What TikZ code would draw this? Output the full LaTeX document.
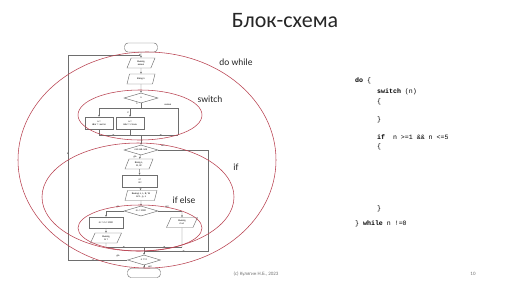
\documentclass[tikz,border=0pt]{standalone}
\usepackage{fontspec}
\setmainfont{Carlito}
\newfontfamily\codefont{Liberation Mono}
\newfontfamily\tinyfont{Liberation Sans}
\usetikzlibrary{shapes.geometric,arrows.meta,calc}
\definecolor{ellred}{RGB}{185,65,80}
\definecolor{fline}{RGB}{110,110,110}
\tikzset{
  fc/.style={draw=fline,line width=0.45pt,fill=white,font=\tinyfont\fontsize{2.4}{2.8}\selectfont,align=center,inner sep=0.3pt},
  termbox/.style={fc,rounded corners=3.5pt,minimum width=33pt,minimum height=9pt},
  iobox/.style={fc,trapezium,trapezium left angle=72,trapezium right angle=108,trapezium stretches=true,minimum width=28pt,minimum height=10pt},
  procbox/.style={fc,rectangle,minimum width=28pt,minimum height=12pt},
  decbox/.style={fc,diamond,aspect=3.4,minimum width=34pt,minimum height=10pt},
  conn/.style={draw=fline,line width=0.45pt},
  arr/.style={conn,-{Stealth[length=2pt,width=1.8pt]}},
  lbl/.style={font=\tinyfont\fontsize{2.4}{2.8}\selectfont,inner sep=0.5pt},
  ell/.style={draw=ellred,line width=0.55pt},
  elabel/.style={font=\fontsize{9.5}{11}\selectfont,text=black!85},
  code/.style={font=\codefont\fontsize{6.6}{8}\selectfont,anchor=west,inner sep=0pt},
}
\begin{document}
\begin{tikzpicture}[x=1pt,y=-1pt]
\useasboundingbox[fill=white] (0,0) rectangle (516,290);

% title and footer
\node[font=\fontsize{22}{24}\selectfont,text=black!85] (title) at (285,21) {Блок-схема};
\node[font=\fontsize{5}{6}\selectfont,text=black!55] (foot) at (256,274) {(с) Кулягин Н.Б., 2023};
\node[font=\fontsize{5}{6}\selectfont,text=black!55] (pnum) at (473,274) {10};

% flowchart nodes
\node[termbox] (start) at (141,47.5) {};
\node[iobox] (menu) at (141,63) {Вывод\\меню};
\node[iobox] (inn) at (141,79) {Ввод n};
\node[decbox] (dn) at (141,98) {n};
\node[procbox] (b1) at (99,123) {a =\\Шаг = число};
\node[procbox] (b2) at (130,123) {a =\\Шаг = стена};
\node[decbox] (dif) at (141,150) {n≥1 \&\& n≤5};
\node[iobox] (inlbw) at (139,164) {Ввод L,\\B, W};
\node[procbox,minimum width=35pt] (calc) at (140,181) {s=\\m=};
\node[iobox,minimum width=32pt] (outs) at (141,195.5) {Вывод s, L, B, W\\m=L, p, s};
\node[decbox] (dm) at (141,211) {m < 1000};
\node[procbox,minimum width=34pt,minimum height=11pt] (conv) at (106,222.5) {m = m / 1000};
\node[iobox,minimum width=31pt] (outt) at (106,238) {Вывод\\m т};
\node[iobox,minimum width=31pt] (outkg) at (182,222.5) {Вывод\\m кг};
\node[decbox,minimum width=33pt] (dend) at (144,260) {n != 0};
\node[termbox] (stop) at (144,273) {};

% coordinates
\coordinate (J0) at (141,55);
\coordinate (LT) at (68,55);
\coordinate (LB) at (68,260);
\coordinate (SW) at (141,108);
\coordinate (SL) at (99,108);
\coordinate (SM) at (130,108);
\coordinate (SR) at (178,108);
\coordinate (ML) at (99,135);
\coordinate (MM) at (130,135);
\coordinate (MC) at (141,135);
\coordinate (MR) at (178,135);
\coordinate (IR) at (208,150);
\coordinate (IRB) at (208,251);
\coordinate (IC) at (144,251);
\coordinate (EL) at (106,211);
\coordinate (ER) at (182,211);
\coordinate (EML) at (106,247);
\coordinate (EMR) at (182,247);
\coordinate (EMC) at (144,247);

% connectors
\draw[arr] (start) -- (menu);
\draw[arr] (menu) -- (inn);
\draw[arr] (inn) -- (dn);
\draw[conn] (dn.south) -- (SW);
\draw[arr] (SW) -- (SL) -- (b1.north);
\draw[arr] (SW) -- (SM) -- (b2.north);
\draw[conn] (SW) -- (SR) -- (MR);
\draw[conn] (b1.south) -- (ML);
\draw[conn] (b2.south) -- (MM);
\draw[conn] (ML) -- (MR);
\draw[arr] (ML) -- ($(ML)!0.5!(MM)$);
\draw[arr] (MR) -- ($(MR)!0.5!(MC)$);
\draw[arr] (MC) -- (dif);
\draw[arr] (dif) -- (inlbw);
\draw[arr] (inlbw) -- (calc);
\draw[arr] (calc) -- (outs);
\draw[arr] (outs) -- (dm);
\draw[conn] (dm.west) -- (EL);
\draw[arr] (EL) -- (conv);
\draw[arr] (conv) -- (outt);
\draw[conn] (outt.south) -- (EML);
\draw[conn] (dm.east) -- (ER);
\draw[arr] (ER) -- (outkg);
\draw[conn] (outkg.south) -- (EMR);
\draw[conn] (EML) -- (EMR);
\draw[arr] (EML) -- ($(EML)!0.5!(EMC)$);
\draw[arr] (EMR) -- ($(EMR)!0.5!(EMC)$);
\draw[conn] (EMC) -- (IC);
\draw[conn] (dif.east) -- (IR) -- (IRB) -- (IC);
\draw[arr] (IRB) -- ($(IRB)!0.4!(IC)$);
\draw[arr] (IC) -- (dend);
\draw[arr] (dend) -- (stop);
\draw[conn] (dend.west) -- (LB) -- (LT);
\draw[arr] (dend.west) -- ($(dend.west)!0.6!(LB)$);
\draw[arr] (LB) -- (68,152);
\draw[arr] (LT) -- (J0);

% flowchart labels
\node[lbl] (l1) at (137,104) {1};
\node[lbl] (l2) at (128,113) {2};
\node[lbl] (lel) at (168,105) {иначе};
\node[lbl] (lda1) at (135,157) {да};
\node[lbl] (lnet1) at (163,146) {нет};
\node[lbl] (lda2) at (118,207) {да};
\node[lbl] (lnet2) at (167,207) {нет};
\node[lbl] (lda3) at (118,256) {да};
\node[lbl] (lnet3) at (150,267) {нет};

% red ellipses
\draw[ell] (147,160) ellipse [x radius=129pt, y radius=108pt];
\draw[ell] (140,115) ellipse [x radius=62pt, y radius=25pt];
\draw[ell] (138,197) ellipse [x radius=96pt, y radius=54pt];
\draw[ell] (140,228) ellipse [x radius=62pt, y radius=23pt];

\node[elabel] (ldw) at (236,62) {do while};
\node[elabel] (lsw) at (210,99) {switch};
\node[elabel] (lif) at (236,167) {if};
\node[elabel] (lie) at (184,200) {if else};

% code
\node[code] (c1) at (355,81) {\textbf{do} \{};
\node[code] (c2) at (377,92) {\textbf{switch} (n)};
\node[code] (c3) at (377,102) {\{};
\node[code] (c4) at (377,120) {\}};
\node[code] (c5) at (377,137) {\textbf{if}~~n >=1 \&\& n <=5};
\node[code] (c6) at (377,147) {\{};
\node[code] (c7) at (377,209) {\}};
\node[code] (c8) at (355,224) {\} \textbf{while} n !=0};
\end{tikzpicture}
\end{document}
